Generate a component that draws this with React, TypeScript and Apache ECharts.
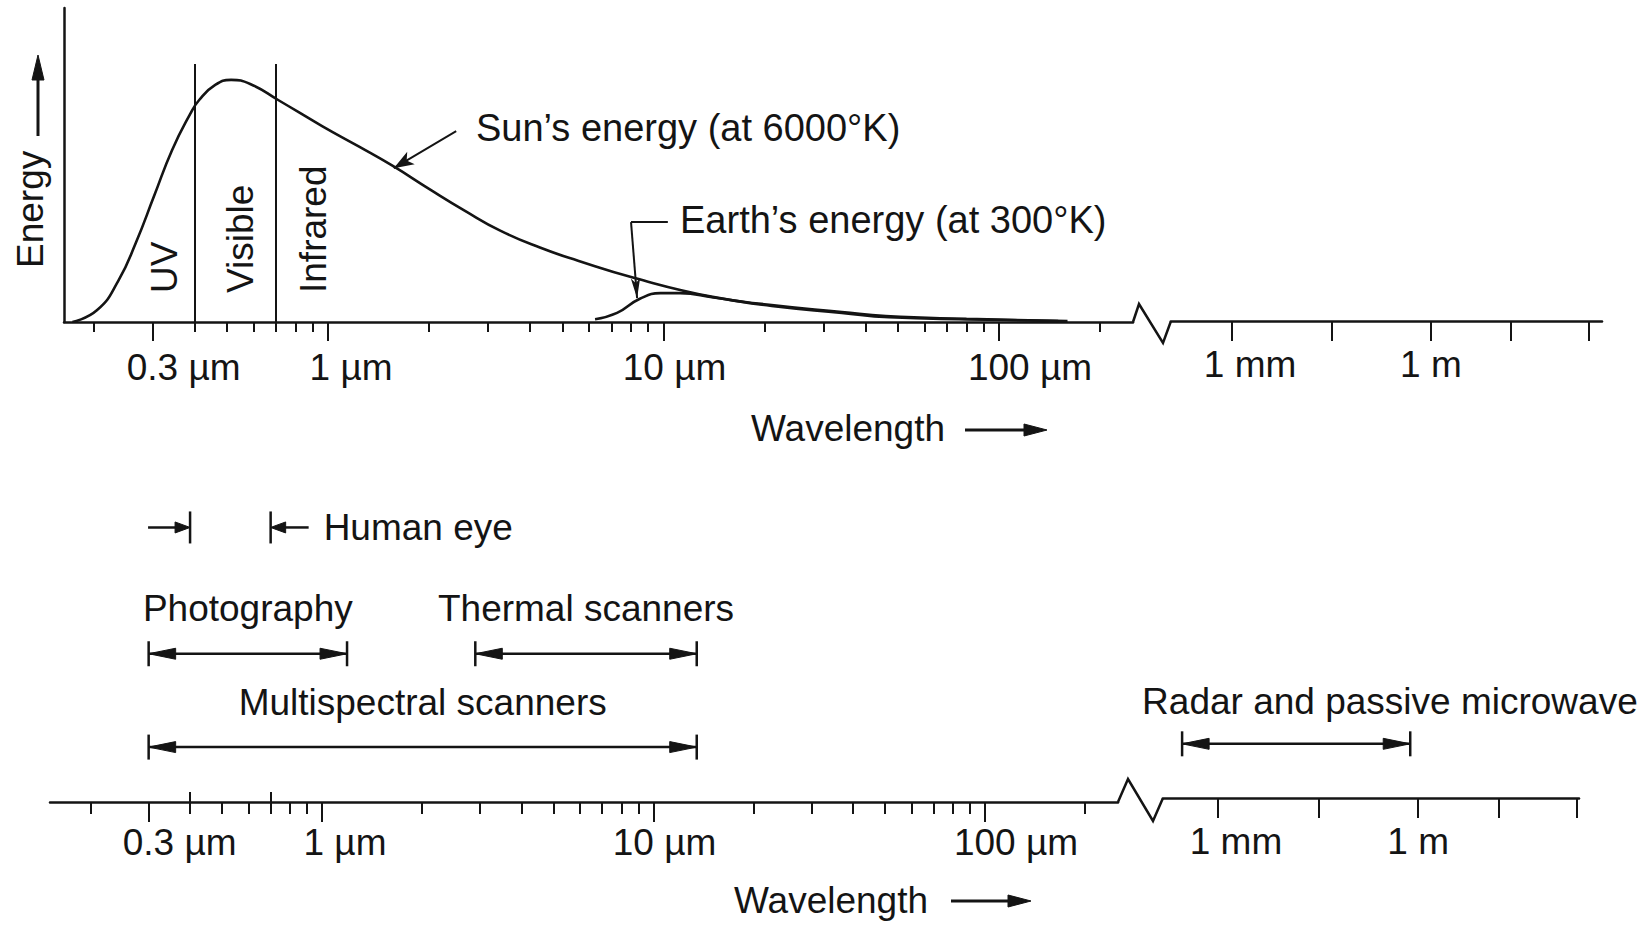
import React, { useEffect, useRef } from 'react';
import * as echarts from 'echarts';

// ---------------- data (wavelength in µm) ----------------
const SUN_WAVELENGTH_UM = [0.173, 0.205, 0.237, 0.268, 0.303, 0.343, 0.388, 0.413, 0.461, 0.514, 0.586, 0.71, 0.96, 1.23, 1.56, 2.0, 2.56, 3.26, 4.28, 5.56, 8.2, 14, 21, 34, 46, 80, 160];
const SUN_ENERGY = [0, 3.8, 13.1, 25.5, 40.1, 54.8, 66.2, 70.7, 75.5, 77.1, 75.8, 70.7, 62.4, 56.0, 49.7, 42.4, 35.4, 29.1, 23.7, 19.5, 14.0, 8.0, 5.4, 3.2, 1.9, 1.0, 0.3];

const EARTH_WAVELENGTH_UM = [6.25, 7.27, 8.5, 9.8, 11.2, 14.1, 21, 34, 47, 84, 150];
const EARTH_ENERGY = [0.9, 2.9, 7.4, 9.2, 9.2, 7.8, 5.1, 2.9, 1.5, 0.8, 0.3];

const REGION_BOUNDS_UM = [0.4, 0.7];
const REGION_LINE_TOP = 82.2;
const REGION_NAMES = ['UV', 'Visible', 'Infrared'];

const SUN_LABEL = 'Sun\u2019s energy (at 6000\u00B0K)';
const EARTH_LABEL = 'Earth\u2019s energy (at 300\u00B0K)';
const SUN_POINTER = [[2.41, 60.8], [1.57, 49.0]];
const EARTH_POINTER = [[10.3, 31.8], [8.0, 31.8], [8.34, 7.6]];

const NEAR_MINOR_TICKS = [0.2, 0.4, 0.5, 0.6, 0.7, 0.8, 0.9, 2, 3, 4, 5, 6, 7, 8, 9, 20, 30, 40, 50, 60, 70, 80, 90, 200];
const NEAR_MAJOR_TICKS = [0.3, 1, 10, 100];
const NEAR_TICK_LABELS = ['0.3 \u00B5m', '1 \u00B5m', '10 \u00B5m', '100 \u00B5m'];
const VISIBLE_MARK_TICKS = [0.4, 0.7];
const FAR_TICKS = [1e3, 3.2e4, 1e6, 1.6e7, 2.4e8];
const FAR_LABEL_VALUES = [1e3, 1e6];
const FAR_TICK_LABELS = ['1 mm', '1 m'];

const RANGE_NAMES = ['Human eye', 'Photography', 'Thermal scanners', 'Multispectral scanners', 'Radar and passive microwave'];
const RANGE_START_UM = [0.4, 0.3, 2.9, 0.3, 290];
const RANGE_END_UM = [0.7, 1.19, 13.5, 13.5, 7.6e5];
const RANGE_LANE = [5, 2.7, 2.7, 1, 1];
const RANGE_ON_FAR_AXIS = [false, false, false, false, true];

// ---------------- styles ----------------
const FONT = "'Liberation Sans', Arial, Helvetica, sans-serif";
const FS = 37;
const INK = '#141414';
const LW = 2.5;
const RANGE_LABEL_MODE = ['eye', 'center', 'center', 'center', 'left'];
const NEAR_LABEL_PAD = [62, 46, 22, 62];
const FAR_LABEL_PAD = [36, 0];

const axisText = { color: INK, fontFamily: FONT, fontSize: FS };

const sameVal = (a: number, b: number) => Math.abs(Math.log10(a) - Math.log10(b)) < 1e-6;

const nearFormatter = (v: number) => {
  const i = NEAR_MAJOR_TICKS.findIndex((t) => sameVal(t, v));
  return i < 0 ? '' : `{n${i}|${NEAR_TICK_LABELS[i]}}`;
};
const farFormatter = (v: number) => {
  const i = FAR_LABEL_VALUES.findIndex((t) => sameVal(t, v));
  return i < 0 ? '' : `{f${i}|${FAR_TICK_LABELS[i]}}`;
};
const nearRich: any = {};
NEAR_LABEL_PAD.forEach((p, i) => (nearRich['n' + i] = { ...axisText, padding: [0, 0, 0, p] }));
const farRich: any = {};
FAR_LABEL_PAD.forEach((p, i) => (farRich['f' + i] = { ...axisText, padding: [0, 0, 0, p] }));

const textStyle = (text: string, align = 'left', size = FS) => ({
  text,
  fill: INK,
  font: `${size}px ${FONT}`,
  fontSize: size,
  fontFamily: FONT,
  align,
  textAlign: align,
  verticalAlign: 'middle',
  textVerticalAlign: 'middle',
});

const gText = (text: string, x: number, y: number, rotation = 0, align = 'left', size = FS) => ({
  type: 'text', x, y, rotation, z: 20, silent: true, style: textStyle(text, align, size),
});
const gLine = (x1: number, y1: number, x2: number, y2: number, w = LW) => ({
  type: 'line', z: 20, silent: true, shape: { x1, y1, x2, y2 }, style: { stroke: INK, lineWidth: w },
});
const gPoly = (points: number[][]) => ({
  type: 'polygon', z: 20, silent: true, shape: { points }, style: { fill: INK, stroke: INK, lineWidth: 1 },
});

// ---------------- axes ----------------
const TOP_NEAR = { min: 0.1633, max: 250.8 };
const TOP_FAR = { min: 120, max: 3.8e8 };
const BOT_NEAR = { min: 0.1512, max: 251.8 };
const BOT_FAR = { min: 150, max: 2.57e8 };

const lineAxis = (gridIndex: number, range: any, ticks: number[], tickLen: number, showLine: boolean, labels?: { values: number[]; formatter: any; rich: any; margin: number }, inside = false) => ({
  type: 'log',
  logBase: 10,
  gridIndex,
  position: 'bottom',
  offset: 0,
  min: range.min,
  max: range.max,
  splitLine: { show: false },
  minorTick: { show: false },
  axisLine: { show: showLine, onZero: false, lineStyle: { color: INK, width: LW } },
  axisTick: { show: true, inside, customValues: ticks, length: tickLen, lineStyle: { color: INK, width: 2 } },
  axisLabel: labels
    ? { show: true, customValues: labels.values, formatter: labels.formatter, rich: labels.rich, margin: labels.margin, ...axisText }
    : { show: false },
});

function renderRange(params: any, api: any) {
  const idx = api.value(3);
  const lane = api.value(2);
  const s = api.coord([api.value(0), lane]);
  const e = api.coord([api.value(1), lane]);
  const y = s[1];
  const mode = RANGE_LABEL_MODE[idx];
  const name = RANGE_NAMES[idx];
  const children: any[] = [];
  const line = (x1: number, y1: number, x2: number, y2: number) => ({
    type: 'line', shape: { x1, y1, x2, y2 }, style: { stroke: INK, lineWidth: LW },
  });
  const poly = (pts: number[][]) => ({ type: 'polygon', shape: { points: pts }, style: { fill: INK, stroke: INK, lineWidth: 1 } });
  const txt = (x: number, ty: number, align: string) => ({ type: 'text', style: { ...textStyle(name, align), x, y: ty } });
  if (mode === 'eye') {
    const h = 16;
    children.push(line(s[0] - 42, y, s[0] - 8, y));
    children.push(poly([[s[0], y], [s[0] - 15, y - 5.5], [s[0] - 15, y + 5.5]]));
    children.push(line(s[0], y - h, s[0], y + h));
    children.push(line(e[0], y - h, e[0], y + h));
    children.push(poly([[e[0], y], [e[0] + 15, y - 5.5], [e[0] + 15, y + 5.5]]));
    children.push(line(e[0] + 8, y, e[0] + 38, y));
    children.push(txt(e[0] + 53, y, 'left'));
  } else {
    const h = 12.5;
    children.push(line(s[0], y, e[0], y));
    children.push(line(s[0], y - h, s[0], y + h));
    children.push(line(e[0], y - h, e[0], y + h));
    children.push(poly([[s[0], y], [s[0] + 27, y - 5.5], [s[0] + 27, y + 5.5]]));
    children.push(poly([[e[0], y], [e[0] - 27, y - 5.5], [e[0] - 27, y + 5.5]]));
    if (mode === 'left') children.push(txt(s[0] - 40, y - 42, 'left'));
    else children.push(txt((s[0] + e[0]) / 2, y - 45, 'center'));
  }
  return { type: 'group', children };
}

function buildOption(): any {
  const sunData = SUN_WAVELENGTH_UM.map((w, i) => [w, SUN_ENERGY[i]]);
  const earthData = EARTH_WAVELENGTH_UM.map((w, i) => [w, EARTH_ENERGY[i]]);
  const rangeRows = RANGE_NAMES.map((_, i) => [RANGE_START_UM[i], RANGE_END_UM[i], RANGE_LANE[i], i]);
  const nearRows = rangeRows.filter((_, i) => !RANGE_ON_FAR_AXIS[i]);
  const farRows = rangeRows.filter((_, i) => RANGE_ON_FAR_AXIS[i]);

  const hiddenY = (gridIndex: number, max: number) => ({
    type: 'value', gridIndex, min: 0, max, show: false, splitLine: { show: false },
  });

  return {
    animation: false,
    backgroundColor: '#ffffff',
    grid: [
      { left: 64, top: 8, width: 1069, height: 314, outerBoundsMode: 'none', containLabel: false },
      { left: 1171, top: 8, width: 431, height: 313, outerBoundsMode: 'none', containLabel: false },
      { left: 50, top: 500, width: 1068, height: 302, outerBoundsMode: 'none', containLabel: false },
      { left: 1163, top: 500, width: 416, height: 298, outerBoundsMode: 'none', containLabel: false },
    ],
    xAxis: [
      lineAxis(0, TOP_NEAR, NEAR_MINOR_TICKS, 10, true),
      lineAxis(0, TOP_NEAR, NEAR_MAJOR_TICKS, 19, false, { values: NEAR_MAJOR_TICKS, formatter: nearFormatter, rich: nearRich, margin: 27 }),
      lineAxis(1, TOP_FAR, FAR_TICKS, 20, true, { values: FAR_LABEL_VALUES, formatter: farFormatter, rich: farRich, margin: 25 }),
      lineAxis(2, BOT_NEAR, NEAR_MINOR_TICKS, 12, true),
      lineAxis(2, BOT_NEAR, NEAR_MAJOR_TICKS, 20, false, { values: NEAR_MAJOR_TICKS, formatter: nearFormatter, rich: nearRich, margin: 22 }),
      lineAxis(2, BOT_NEAR, VISIBLE_MARK_TICKS, 10, false, undefined, true),
      lineAxis(3, BOT_FAR, FAR_TICKS, 20, true, { values: FAR_LABEL_VALUES, formatter: farFormatter, rich: farRich, margin: 25 }),
    ],
    yAxis: [
      {
        type: 'value', gridIndex: 0, min: 0, max: 100, position: 'left',
        axisLine: { show: true, onZero: false, lineStyle: { color: INK, width: LW } },
        axisTick: { show: false }, axisLabel: { show: false }, splitLine: { show: false },
      },
      hiddenY(1, 100),
      hiddenY(2, 5.5),
      hiddenY(3, 5.5),
    ],
    series: [
      {
        type: 'line', name: 'Sun', xAxisIndex: 0, yAxisIndex: 0, data: sunData,
        showSymbol: false, smooth: 0.5, silent: true, z: 5,
        lineStyle: { color: INK, width: 2.6 },
        markLine: {
          silent: true, animation: false,
          label: { show: false },
          lineStyle: { color: INK, width: 2, type: 'solid' },
          emphasis: { disabled: true },
          data: [
            ...REGION_BOUNDS_UM.map((b) => [
              { coord: [b, 0], symbol: 'none' },
              { coord: [b, REGION_LINE_TOP], symbol: 'none' },
            ]),
            [
              { coord: SUN_POINTER[0], symbol: 'none' },
              { coord: SUN_POINTER[1], symbol: 'arrow', symbolSize: [11, 20] },
            ],
            [
              { coord: EARTH_POINTER[0], symbol: 'none' },
              { coord: EARTH_POINTER[1], symbol: 'none' },
            ],
            [
              { coord: EARTH_POINTER[1], symbol: 'none' },
              { coord: EARTH_POINTER[2], symbol: 'arrow', symbolSize: [7, 20] },
            ],
          ],
        },
      },
      {
        type: 'line', name: 'Earth', xAxisIndex: 0, yAxisIndex: 0, data: earthData,
        showSymbol: false, smooth: 0.5, silent: true, z: 5,
        lineStyle: { color: INK, width: 2.6 },
      },
      {
        type: 'custom', name: 'Sensors', xAxisIndex: 3, yAxisIndex: 2, clip: false, silent: true,
        encode: { x: [0, 1], y: 2 }, data: nearRows, renderItem: renderRange, z: 10,
      },
      {
        type: 'custom', name: 'Microwave', xAxisIndex: 6, yAxisIndex: 3, clip: false, silent: true,
        encode: { x: [0, 1], y: 2 }, data: farRows, renderItem: renderRange, z: 10,
      },
    ],
    graphic: [
      // Energy axis title + arrow
      gText('Energy', 30, 268, Math.PI / 2),
      gLine(38, 136, 38, 76, 3),
      gPoly([[38, 55], [32, 80], [44, 80]]),
      // region labels
      gText(REGION_NAMES[0], 164, 293, Math.PI / 2),
      gText(REGION_NAMES[1], 240, 293, Math.PI / 2),
      gText(REGION_NAMES[2], 313, 293, Math.PI / 2),
      // curve labels
      gText(SUN_LABEL, 476, 128, 0, 'left', 38),
      gText(EARTH_LABEL, 680, 220, 0, 'left', 38),
      // wavelength titles
      gText('Wavelength', 751, 428),
      gLine(965, 430, 1028, 430, 3),
      gPoly([[1047, 430], [1024, 424], [1024, 436]]),
      gText('Wavelength', 734, 900),
      gLine(951, 901, 1012, 901, 3),
      gPoly([[1031, 901], [1008, 895], [1008, 907]]),
      // axis breaks
      {
        type: 'polyline', z: 20, silent: true,
        shape: { points: [[1133, 322], [1139, 304], [1163, 343], [1171, 321]] },
        style: { stroke: INK, lineWidth: LW, fill: 'none' },
      },
      {
        type: 'polyline', z: 20, silent: true,
        shape: { points: [[1118, 802], [1128, 779], [1153, 821], [1163, 798]] },
        style: { stroke: INK, lineWidth: LW, fill: 'none' },
      },
    ],
  };
}

export default function App() {
  const ref = useRef<HTMLDivElement>(null);
  useEffect(() => {
    if (!ref.current) return;
    const chart = echarts.init(ref.current, null, { renderer: 'svg' });
    chart.setOption(buildOption());
    return () => chart.dispose();
  }, []);
  return (
    <div
      ref={ref}
      style={{ position: 'fixed', left: 0, top: 0, width: '1649px', height: '926px', background: '#fff' }}
    />
  );
}
